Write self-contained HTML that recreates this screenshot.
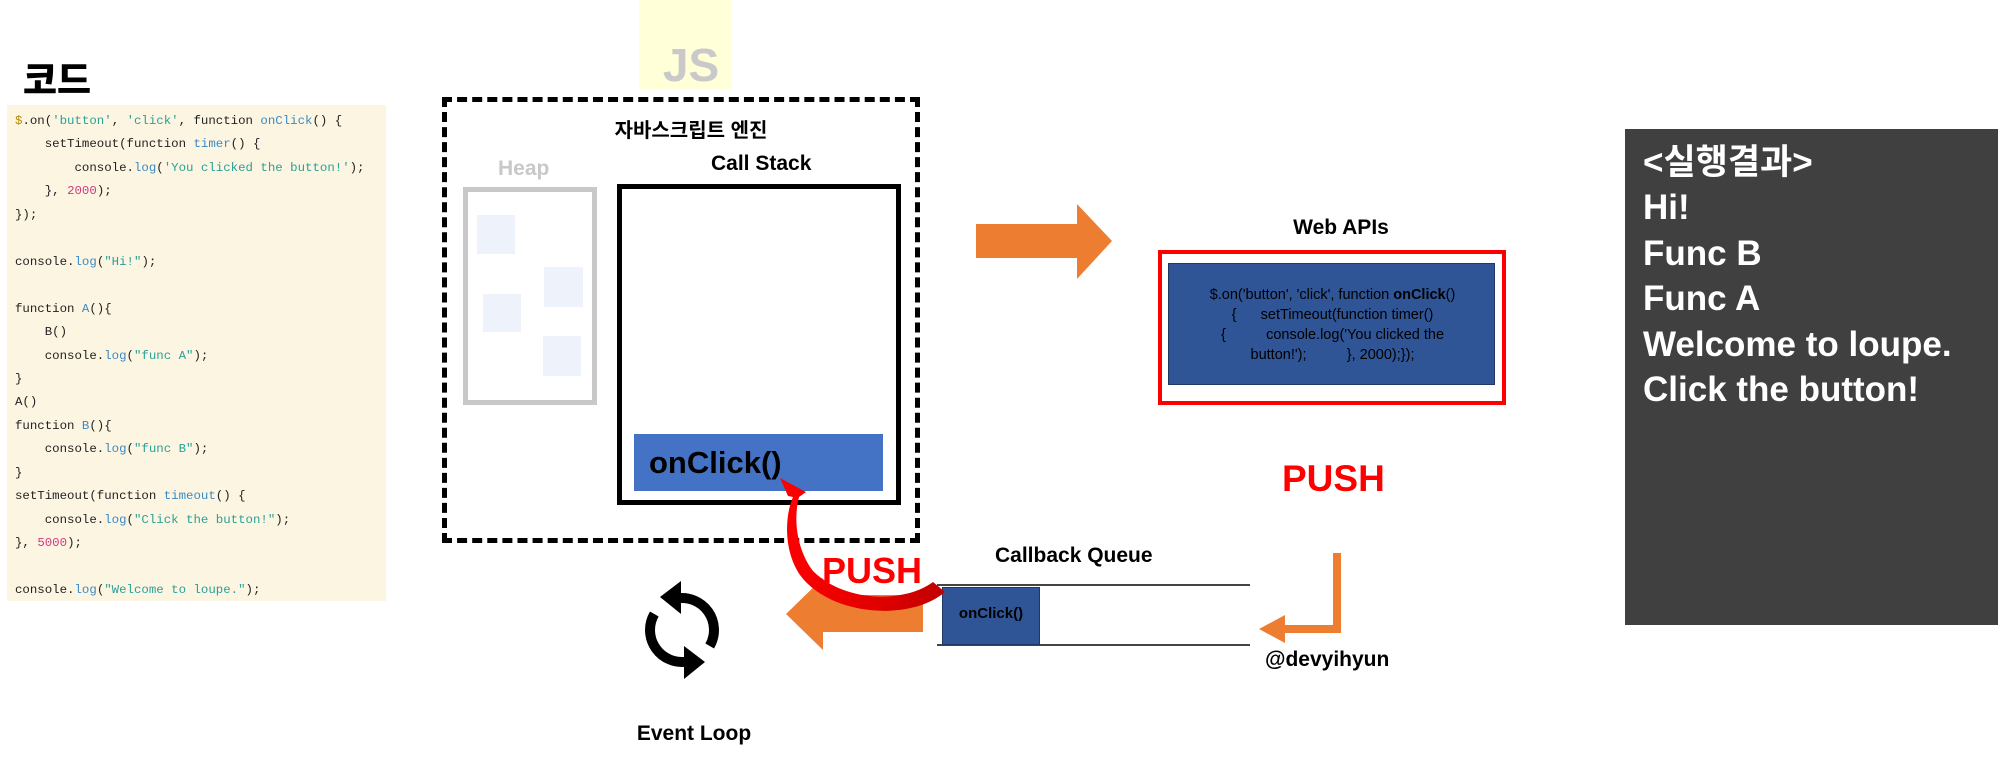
<!DOCTYPE html>
<html><head><meta charset="utf-8"><style>
body{margin:0;width:2004px;height:764px;position:relative;background:#fff;overflow:hidden;font-family:"Liberation Sans","Noto Sans CJK KR",sans-serif}
.a{position:absolute}
.b{font-weight:bold}
#code{left:7px;top:105px;width:379px;height:496px;background:#fcf5e2}
#code pre{margin:0;position:absolute;left:8px;top:5px;font-family:"Liberation Mono",monospace;font-size:12.4px;line-height:23.45px;color:#222}
.n{color:#3b8ac4}.s{color:#2aa198}.m{color:#d33682}.d{color:#b58900}
.lbl{font-weight:bold;font-size:21px;color:#000;white-space:nowrap}
.res{left:1643px;color:#fff;font-weight:bold;font-size:35px;white-space:nowrap;line-height:45.5px}
</style></head><body>
<div class="a b" style="left:23px;top:50px;font-size:37px;font-family:'Noto Sans CJK KR',sans-serif;font-weight:900">코드</div>
<div class="a" id="code"><pre><span class="d">$</span>.on(<span class="s">'button'</span>, <span class="s">'click'</span>, function <span class="n">onClick</span>() {
    setTimeout(function <span class="n">timer</span>() {
        console.<span class="n">log</span>(<span class="s">'You clicked the button!'</span>);
    }, <span class="m">2000</span>);
});

console.<span class="n">log</span>(<span class="s">"Hi!"</span>);

function <span class="n">A</span>(){
    B()
    console.<span class="n">log</span>(<span class="s">"func A"</span>);
}
A()
function <span class="n">B</span>(){
    console.<span class="n">log</span>(<span class="s">"func B"</span>);
}
setTimeout(function <span class="n">timeout</span>() {
    console.<span class="n">log</span>(<span class="s">"Click the button!"</span>);
}, <span class="m">5000</span>);

console.<span class="n">log</span>(<span class="s">"Welcome to loupe."</span>);</pre></div>

<div class="a" style="left:639px;top:0;width:92px;height:89px;background:#ffffd8"></div>
<div class="a b" style="left:639px;top:40px;width:104px;text-align:center;font-size:46px;color:#c9c9c9;line-height:50px">JS</div>

<div class="a" style="left:442px;top:97px;width:468px;height:436px;border:5px dashed #000"></div>
<div class="a lbl" style="left:591px;top:114px;width:200px;text-align:center;font-size:20px">자바스크립트 엔진</div>
<div class="a lbl" style="left:498px;top:157px;color:#c8c8c8;font-size:21px">Heap</div>
<div class="a" style="left:463px;top:187px;width:124px;height:208px;border:5px solid #c8c8c8"></div>
<div class="a" style="left:477px;top:215px;width:38px;height:39px;background:#eef2fa"></div>
<div class="a" style="left:544px;top:267px;width:39px;height:40px;background:#eef2fa"></div>
<div class="a" style="left:483px;top:294px;width:38px;height:38px;background:#eef2fa"></div>
<div class="a" style="left:543px;top:336px;width:38px;height:40px;background:#eef2fa"></div>
<div class="a lbl" style="left:711px;top:152px">Call Stack</div>
<div class="a" style="left:617px;top:184px;width:274px;height:311px;border:5px solid #000"></div>
<div class="a" style="left:634px;top:434px;width:249px;height:57px;background:#4472c4"></div>
<div class="a b" style="left:649px;top:443px;font-size:31px;line-height:40px">onClick()</div>

<div class="a lbl" style="left:1241px;top:216px;width:200px;text-align:center">Web APIs</div>
<div class="a" style="left:1158px;top:250px;width:340px;height:147px;border:4px solid #ff0000"></div>
<div class="a" style="left:1168px;top:263px;width:325px;height:120px;background:#2f5597;border:1px solid #1f3864"></div>
<div class="a" style="left:1180px;top:285px;width:305px;text-align:center;font-size:14.5px;line-height:20px;color:#000">$.on('button', 'click', function <b>onClick</b>()<br>{&nbsp;&nbsp;&nbsp;&nbsp;&nbsp; setTimeout(function timer()<br>{&nbsp;&nbsp;&nbsp;&nbsp;&nbsp;&nbsp;&nbsp;&nbsp;&nbsp; console.log('You clicked the<br>button!');&nbsp;&nbsp;&nbsp;&nbsp;&nbsp;&nbsp;&nbsp;&nbsp;&nbsp; }, 2000);});</div>

<div class="a b" style="left:1282px;top:458px;font-size:37px;color:#ff0000">PUSH</div>
<div class="a lbl" style="left:995px;top:544px">Callback Queue</div>
<div class="a" style="left:937px;top:584px;width:313px;height:2px;background:#444"></div>
<div class="a" style="left:937px;top:644px;width:313px;height:2px;background:#444"></div>
<div class="a" style="left:942px;top:587px;width:96px;height:56px;background:#2f5597;border:1px solid #1f3864"></div>
<div class="a b" style="left:942px;top:605px;width:98px;text-align:center;font-size:15px">onClick()</div>
<div class="a lbl" style="left:1265px;top:648px">@devyihyun</div>
<div class="a lbl" style="left:594px;top:722px;width:200px;text-align:center">Event Loop</div>

<svg class="a" style="left:0;top:0" width="2004" height="764">
 <polygon points="976,224 1077,224 1077,204 1112,241 1077,279 1077,258 976,258" fill="#ed7d31"/>
 <polygon points="923,595 823,595 823,578 786,614 823,650 823,632 923,632" fill="#ed7d31"/>
 <polygon points="1333,553 1341,553 1341,633 1285,633 1285,643 1259,629 1285,615 1285,625 1333,625" fill="#ed7d31"/>
 <defs><linearGradient id="g" x1="0" y1="0" x2="1" y2="0"><stop offset="0" stop-color="#ff0000"/><stop offset="0.6" stop-color="#e00000"/><stop offset="1" stop-color="#c00000"/></linearGradient></defs>
 <path d="M945,592 C910,622 830,616 800,575 C783,550 785,515 793,497 L788,496 L780,478 L806,492 L799,497 C793,520 797,550 813,571 C845,603 905,603 933,582 Z" fill="url(#g)"/>
 <g fill="none" stroke="#000" stroke-width="10">
  <path d="M676.4,598.5 A32,32 0 0 1 709.7,646"/>
  <path d="M687.6,661.5 A32,32 0 0 1 654.3,614"/>
 </g>
 <polygon points="660,597 681,581 681,614" fill="#000"/>
 <polygon points="705,662 684,646 684,679" fill="#000"/>
</svg>
<div class="a b" style="left:822px;top:550px;font-size:36px;color:#ff0000">PUSH</div>

<div class="a" style="left:1625px;top:129px;width:373px;height:496px;background:#404040"></div>
<div class="a res" style="top:140px">&lt;실행결과&gt;</div>
<div class="a res" style="top:185px">Hi!</div>
<div class="a res" style="top:231px">Func B</div>
<div class="a res" style="top:276px">Func A</div>
<div class="a res" style="top:322px">Welcome to loupe.</div>
<div class="a res" style="top:367px">Click the button!</div>
</body></html>
